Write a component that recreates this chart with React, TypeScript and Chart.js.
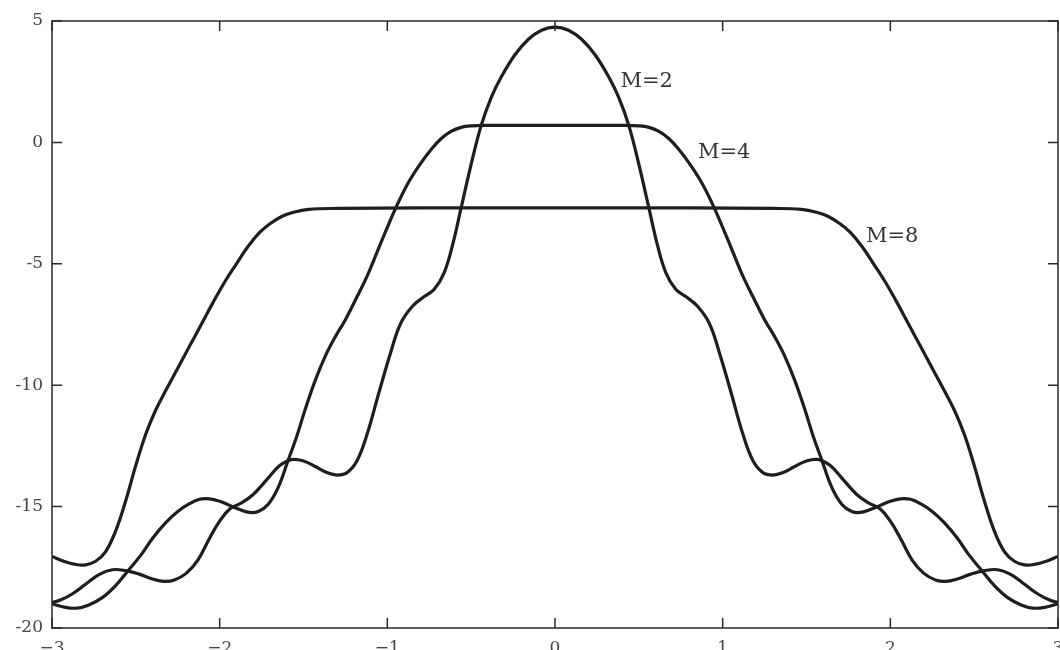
import React, { useEffect, useRef } from 'react';
import { Chart, registerables } from 'chart.js';

Chart.register(...registerables);

const xTicks = [-3, -2, -1, 0, 1, 2, 3];
const xTickLabels = ['−3', '−2', '−1', '0', '1', '2', '3'];
const yTicks = [5, 0, -5, -10, -15, -20];
const yTickLabels = ['5', '0', '-5', '-10', '-15', '-20'];

const seriesNames = ['M=2', 'M=4', 'M=8'];

const m2X = [-3.0, -2.95, -2.88, -2.8, -2.72, -2.64, -2.56, -2.48, -2.4, -2.33, -2.27, -2.2, -2.13, -2.06, -2.0, -1.94, -1.87, -1.8, -1.72, -1.64, -1.57, -1.5, -1.43, -1.36, -1.3, -1.24, -1.18, -1.12, -1.05, -0.98, -0.92, -0.85, -0.78, -0.72, -0.66, -0.61, -0.56, -0.5, -0.44, -0.38, -0.32, -0.24, -0.16, -0.08, 0,
  0.08, 0.16, 0.24, 0.32, 0.38, 0.44, 0.5, 0.56, 0.61, 0.66, 0.72, 0.78, 0.85, 0.92, 0.98, 1.05, 1.12, 1.18, 1.24, 1.3, 1.36, 1.43, 1.5, 1.57, 1.64, 1.72, 1.8, 1.87, 1.94, 2.0, 2.06, 2.13, 2.2, 2.27, 2.33, 2.4, 2.48, 2.56, 2.64, 2.72, 2.8, 2.88, 2.95, 3.0];
const m2Y = [-18.95, -18.85, -18.6, -18.2, -17.8, -17.6, -17.64, -17.78, -17.98, -18.08, -18.02, -17.75, -17.2, -16.3, -15.6, -15.1, -14.85, -14.5, -13.9, -13.3, -13.06, -13.12, -13.35, -13.6, -13.7, -13.6, -13.1, -12.0, -10.3, -8.65, -7.45, -6.75, -6.35, -6.05, -5.35, -4.2, -2.7, -0.9, 0.7, 1.85, 2.7, 3.6, 4.24, 4.62, 4.75,
  4.62, 4.24, 3.6, 2.7, 1.85, 0.7, -0.9, -2.7, -4.2, -5.35, -6.05, -6.35, -6.75, -7.45, -8.65, -10.3, -12.0, -13.1, -13.6, -13.7, -13.6, -13.35, -13.12, -13.06, -13.3, -13.9, -14.5, -14.85, -15.1, -15.6, -16.3, -17.2, -17.75, -18.02, -18.08, -17.98, -17.78, -17.64, -17.6, -17.8, -18.2, -18.6, -18.85, -18.95];

const m4X = [-3.0, -2.92, -2.85, -2.78, -2.7, -2.62, -2.55, -2.47, -2.4, -2.32, -2.25, -2.18, -2.12, -2.06, -2.0, -1.94, -1.88, -1.82, -1.77, -1.71, -1.65, -1.59, -1.54, -1.49, -1.43, -1.37, -1.31, -1.25, -1.18, -1.12, -1.06, -1.0, -0.94, -0.87, -0.8, -0.74, -0.68, -0.62, -0.56, -0.5, -0.4, -0.2, 0,
  0.2, 0.4, 0.5, 0.56, 0.62, 0.68, 0.74, 0.8, 0.87, 0.94, 1.0, 1.06, 1.12, 1.18, 1.25, 1.31, 1.37, 1.43, 1.49, 1.54, 1.59, 1.65, 1.71, 1.77, 1.82, 1.88, 1.94, 2.0, 2.06, 2.12, 2.18, 2.25, 2.32, 2.4, 2.47, 2.55, 2.62, 2.7, 2.78, 2.85, 2.92, 3.0];
const m4Y = [-19.0, -19.15, -19.18, -19.05, -18.75, -18.25, -17.67, -17.0, -16.3, -15.65, -15.2, -14.88, -14.7, -14.68, -14.78, -14.95, -15.12, -15.24, -15.2, -14.9, -14.2, -13.06, -12.1, -11.0, -9.8, -8.8, -8.0, -7.3, -6.35, -5.5, -4.5, -3.5, -2.55, -1.6, -0.85, -0.3, 0.15, 0.45, 0.62, 0.68, 0.7, 0.7, 0.7,
  0.7, 0.7, 0.68, 0.62, 0.45, 0.15, -0.3, -0.85, -1.6, -2.55, -3.5, -4.5, -5.5, -6.35, -7.3, -8.0, -8.8, -9.8, -11.0, -12.1, -13.06, -14.2, -14.9, -15.2, -15.24, -15.12, -14.95, -14.78, -14.68, -14.7, -14.88, -15.2, -15.65, -16.3, -17.0, -17.67, -18.25, -18.75, -19.05, -19.18, -19.15, -19.0];

const m8X = [-3.0, -2.93, -2.86, -2.8, -2.74, -2.68, -2.62, -2.56, -2.5, -2.44, -2.38, -2.32, -2.25, -2.18, -2.11, -2.04, -1.97, -1.9, -1.83, -1.76, -1.7, -1.63, -1.56, -1.47, -1.3, -0.8, 0,
  0.8, 1.3, 1.47, 1.56, 1.63, 1.7, 1.76, 1.83, 1.9, 1.97, 2.04, 2.11, 2.18, 2.25, 2.32, 2.38, 2.44, 2.5, 2.56, 2.62, 2.68, 2.74, 2.8, 2.86, 2.93, 3.0];
const m8Y = [-17.05, -17.25, -17.38, -17.4, -17.25, -16.85, -16.0, -14.75, -13.3, -12.0, -11.0, -10.2, -9.3, -8.4, -7.5, -6.6, -5.75, -5.0, -4.28, -3.7, -3.35, -3.05, -2.88, -2.76, -2.72, -2.7, -2.7,
  -2.7, -2.72, -2.76, -2.88, -3.05, -3.35, -3.7, -4.28, -5.0, -5.75, -6.6, -7.5, -8.4, -9.3, -10.2, -11.0, -12.0, -13.3, -14.75, -16.0, -16.85, -17.25, -17.4, -17.38, -17.25, -17.05];

const labelX = [0.39, 0.853, 1.855];
const labelY = [2.51, -0.41, -3.87];

const seriesX = [m2X, m4X, m8X];
const seriesY = [m2Y, m4Y, m8Y];

const framePlugin = {
  id: 'frame',
  afterDraw(chart: any) {
    const { ctx, chartArea, scales } = chart;
    const { left, right, top, bottom } = chartArea;
    const xs = scales.x;
    const ys = scales.y;
    ctx.save();
    ctx.strokeStyle = '#2a2a2a';
    ctx.lineWidth = 1.5;
    ctx.strokeRect(left, top, right - left, bottom - top);
    const tl = 10;
    ctx.beginPath();
    xTicks.forEach((v) => {
      const px = xs.getPixelForValue(v);
      ctx.moveTo(px, bottom);
      ctx.lineTo(px, bottom - tl);
      ctx.moveTo(px, top);
      ctx.lineTo(px, top + tl);
    });
    yTicks.forEach((v) => {
      const py = ys.getPixelForValue(v);
      ctx.moveTo(left, py);
      ctx.lineTo(left + tl, py);
      ctx.moveTo(right, py);
      ctx.lineTo(right - tl, py);
    });
    ctx.stroke();
    ctx.fillStyle = '#333';
    ctx.font = '21px "DejaVu Serif"';
    ctx.textBaseline = 'middle';
    ctx.textAlign = 'left';
    seriesNames.forEach((name, i) => {
      ctx.fillText(name, xs.getPixelForValue(labelX[i]), ys.getPixelForValue(labelY[i]));
    });
    ctx.restore();
  },
};

export default function App() {
  const ref = useRef<HTMLCanvasElement | null>(null);
  useEffect(() => {
    if (!ref.current) return;
    const chart = new Chart(ref.current, {
      type: 'line',
      data: {
        datasets: seriesNames.map((name, i) => ({
          label: name,
          data: seriesX[i].map((x, j) => ({ x, y: seriesY[i][j] })),
          borderColor: '#1e1e1e',
          borderWidth: 3.2,
          pointRadius: 0,
          fill: false,
          tension: 0.4,
        })),
      },
      options: {
        responsive: false,
        animation: false,
        layout: { padding: { top: 21, right: 2, left: 0, bottom: 0 } },
        plugins: { legend: { display: false }, tooltip: { enabled: false } },
        scales: {
          x: {
            type: 'linear',
            min: -3,
            max: 3,
            afterBuildTicks: (scale: any) => {
              scale.ticks = xTicks.map((v) => ({ value: v }));
            },
            afterFit: (scale: any) => {
              scale.height = 40;
              scale.paddingLeft = 0;
              scale.paddingRight = 0;
            },
            grid: { display: false, drawTicks: false },
            border: { display: false },
            ticks: {
              padding: 10,
              maxRotation: 0,
              autoSkip: false,
              color: '#444',
              font: { family: 'DejaVu Serif', size: 17 },
              callback: (v: any) => {
                const i = xTicks.indexOf(Number(v));
                return i >= 0 ? xTickLabels[i] : '';
              },
            },
          },
          y: {
            type: 'linear',
            min: -20,
            max: 5,
            afterBuildTicks: (scale: any) => {
              scale.ticks = yTicks.map((v) => ({ value: v }));
            },
            afterFit: (scale: any) => {
              scale.width = 52;
              scale.paddingTop = 0;
              scale.paddingBottom = 0;
            },
            grid: { display: false, drawTicks: false },
            border: { display: false },
            ticks: {
              padding: 9,
              autoSkip: false,
              color: '#444',
              font: { family: 'DejaVu Serif', size: 17 },
              callback: (v: any) => {
                const i = yTicks.indexOf(Number(v));
                return i >= 0 ? yTickLabels[i] : '';
              },
            },
          },
        },
      },
      plugins: [framePlugin],
    });
    return () => chart.destroy();
  }, []);
  return (
    <div style={{ position: 'absolute', left: 0, top: 0, width: 1060, height: 650, overflow: 'hidden', background: '#fff' }}>
      <canvas ref={ref} width={1060} height={668} style={{ display: 'block' }} />
    </div>
  );
}
